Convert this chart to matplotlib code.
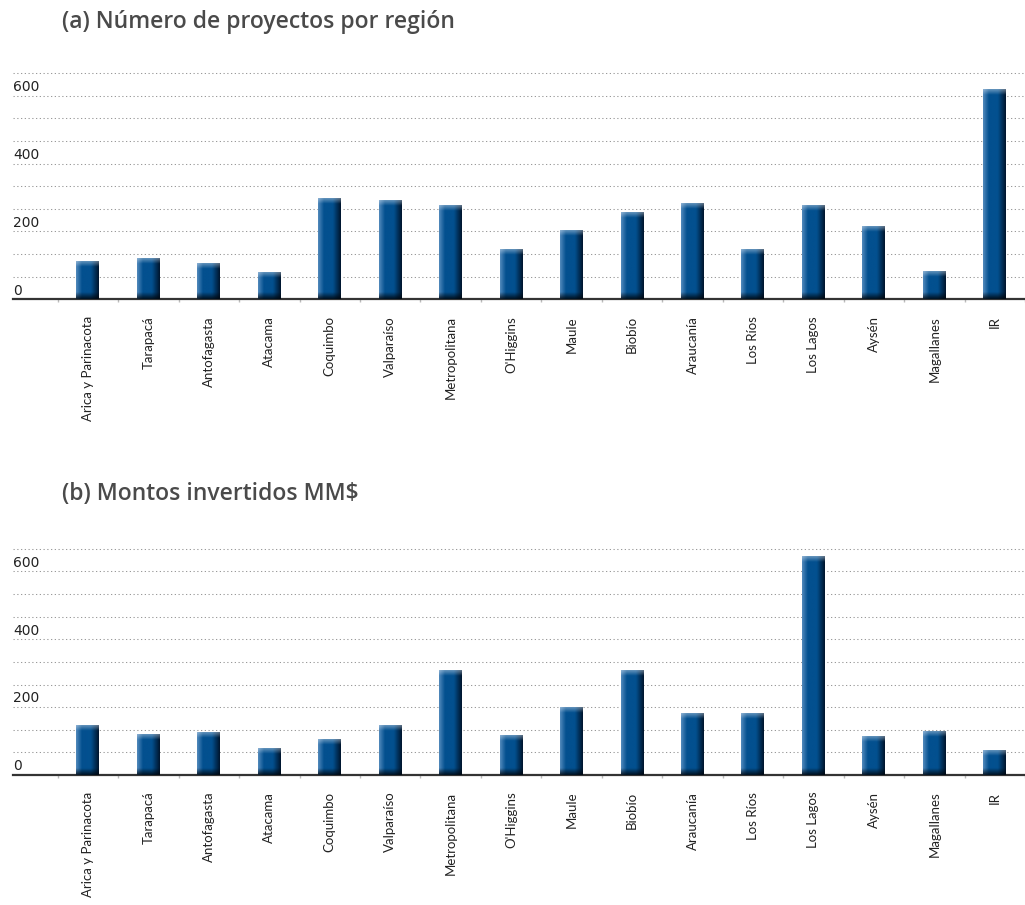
import numpy as np
import matplotlib
matplotlib.use('Agg')
import matplotlib.pyplot as plt
from matplotlib.colors import to_rgb

regiones_a = ['Arica y Parinacota', 'Tarapacá', 'Antofagasta', 'Atacama', 'Coquimbo',
              'Valparaíso', 'Metropolitana', "O'Higgins", 'Maule', 'Biobío', 'Araucanía',
              'Los Ríos', 'Los Lagos', 'Aysén', 'Magallanes', 'IR']
regiones_b = ['Arica y Parinacota', 'Tarapacá', 'Antofagasta', 'Atacama', 'Coquimbo',
              'Valparaíso', 'Metropolitana', "O'Higgins", 'Maule', 'Biobío', 'Araucanía',
              'Los Ríos', 'Los Lagos', 'Aysén', 'Magallanes', 'IR']
proyectos = [110, 119, 104, 78, 296, 290, 275, 145, 201, 254, 281, 145, 275, 213, 81, 617]
montos = [147, 118, 124, 77, 106, 147, 307, 115, 198, 307, 180, 180, 645, 112, 127, 71]
y_labels = [0, 200, 400, 600]

titulos = ['(a) Número de proyectos por región', '(b) Montos invertidos MM$']

W, H = 1025, 905
fig = plt.figure(figsize=(W / 100, H / 100), dpi=100)

c_light = np.array(to_rgb('#5088bb'))
c_mid = np.array(to_rgb('#03508f'))
c_dark = np.array(to_rgb('#00162e'))


def bar_image(h, nx=40, ny=300):
    # horizontal shading: light left edge, dark right edge
    fx = np.linspace(0, 1, nx)
    cols = np.empty((nx, 3))
    for i, f in enumerate(fx):
        if f < 0.25:
            t = f / 0.25
            cols[i] = c_light * (1 - t) + c_mid * t
        elif f < 0.65:
            cols[i] = c_mid
        else:
            t = (f - 0.65) / 0.35
            cols[i] = c_mid * (1 - t) + c_dark * t
    y = np.linspace(h, 0, ny)
    img = np.repeat(cols[None, :, :], ny, axis=0)
    # lighter cap on top, dark foot at bottom (in data units ~ pixels / 0.339)
    top = np.clip(1 - (h - y) / 16.0, 0, 1)[:, None, None]
    img = img * (1 - 0.45 * top) + 0.45 * top * np.array([0.85, 0.9, 0.95])
    foot = np.clip(1 - y / 20.0, 0, 1)[:, None, None]
    img = img * (1 - 0.85 * foot) + 0.85 * foot * c_dark * 0.3
    return np.clip(img, 0, 1)


def draw_panel(ax, regiones, valores, titulo, title_y):
    x = np.arange(len(regiones))
    bars = ax.bar(x, valores, width=0.38, color='none', edgecolor='none', zorder=3)
    for b in bars:
        x0, w, h = b.get_x(), b.get_width(), b.get_height()
        ax.imshow(bar_image(h), extent=[x0, x0 + w, 0, h], aspect='auto',
                  origin='upper', zorder=3, interpolation='bilinear')
    ax.set_xlim(-1.24, 15.49)
    ax.set_ylim(0, 700)

    step = 200 / 3
    for k in range(1, 11):
        ax.axhline(k * step, color='#9a9a9a', lw=0.75, dashes=(1.2, 2.4), zorder=1)

    for v in y_labels:
        ax.text(0.0, v + 5, str(v), transform=ax.get_yaxis_transform(),
                ha='left', va='bottom', fontsize=10, color='#222222',
                family='DejaVu Sans')

    for s in ['top', 'right', 'left']:
        ax.spines[s].set_visible(False)
    ax.spines['bottom'].set_color('#333333')
    ax.spines['bottom'].set_linewidth(1.6)
    ax.set_yticks([])
    ax.set_xticks(x)
    ax.set_xticklabels(regiones, rotation=90, fontsize=9.5, family='Lato',
                       color='#222222', va='top')
    ax.tick_params(axis='x', length=0, pad=12)
    ax.set_xticks(np.arange(-0.5, 16, 1), minor=True)
    ax.tick_params(axis='x', which='minor', length=2, color='#bbbbbb', width=1)

    fig.text(62 / W, 1 - title_y / H, titulo, fontsize=16.5, fontweight='semibold',
             family='Open Sans', color='#4a4a4a', ha='left', va='center')


ax_h = 700 * 0.3393 / H
ax1 = fig.add_axes([13 / W, 1 - 299.3 / H, 1 - 13 / W, ax_h])
ax2 = fig.add_axes([13 / W, 1 - 775 / H, 1 - 13 / W, ax_h])

draw_panel(ax1, regiones_a, proyectos, titulos[0], 22)
draw_panel(ax2, regiones_b, montos, titulos[1], 494)

fig.savefig('out.png', dpi=100)
